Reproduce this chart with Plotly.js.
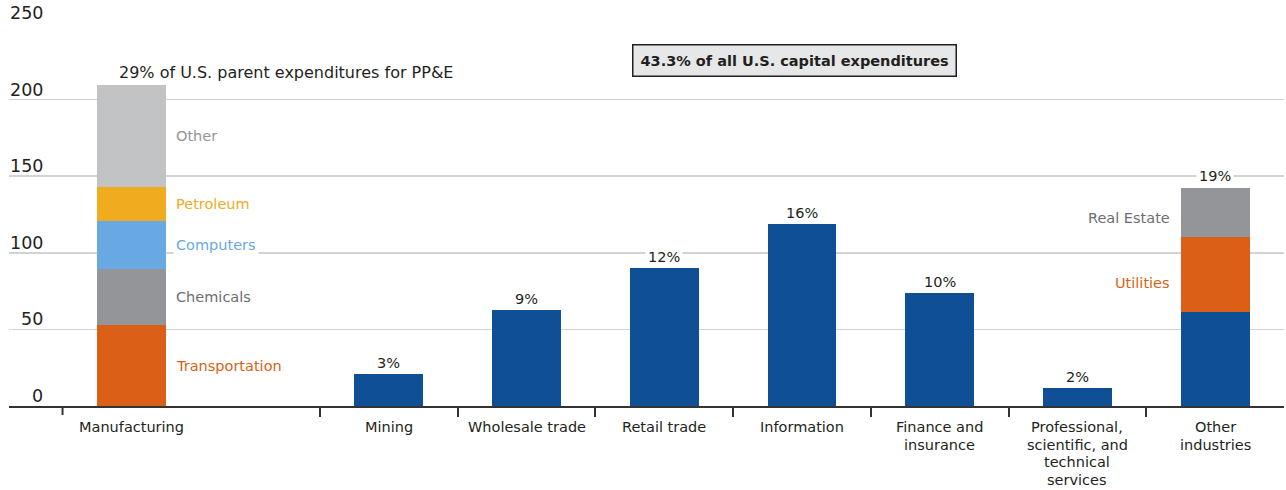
<!DOCTYPE html>
<html>
<head>
<meta charset="utf-8">
<script src="https://cdn.plot.ly/plotly-3.0.1.min.js"></script>
<style>html,body{margin:0;padding:0;background:#fff;}#chart{width:1286px;height:490px;}</style>
</head>
<body>
<div id="chart"></div>
<script>
// ---- data ----
const mfgCategory = "Manufacturing";
const mfgSegments = ["Transportation", "Chemicals", "Computers", "Petroleum", "Other"];
const mfgValues = [52.7, 36.6, 31.4, 22.0, 66.9];
const mfgColors = ["#DB5F16", "#939598", "#68A9E3", "#F0AB1F", "#C1C3C4"];
const mfgLabelColors = ["#DB5F16", "#6D6E71", "#68A9E3", "#F0AB1F", "#939598"];
const mfgNote = "29% of U.S. parent expenditures for PP&E";

const industries = ["Mining", "Wholesale trade", "Retail trade", "Information", "Finance and insurance",
  "Professional, scientific, and technical services", "Other industries"];
const industryLabelLines = [["Mining"], ["Wholesale trade"], ["Retail trade"], ["Information"],
  ["Finance and", "insurance"], ["Professional,", "scientific, and", "technical", "services"], ["Other", "industries"]];
const baseValues = [20.7, 62.5, 90.0, 118.8, 73.7, 11.6, 61.6];
const utilitiesValue = 48.4;   // Other industries: Utilities
const realEstateValue = 32.5;  // Other industries: Real Estate
const pctLabels = ["3%", "9%", "12%", "16%", "10%", "2%", "19%"];
const boxNote = "43.3% of all U.S. capital expenditures";
const yTicks = [0, 50, 100, 150, 200, 250];

// ---- styling ----
const FONT = "DejaVu Sans, Noto Sans, sans-serif";
const DARK = "#231F20";
const BLUE = "#0F4F96";
const FS = 14.5;
const LINE = 17.7;

const traces = [];
mfgSegments.forEach((s, i) => {
  traces.push({type: "bar", x: [mfgCategory], y: [mfgValues[i]], name: s, xaxis: "x", yaxis: "y",
    marker: {color: mfgColors[i]}, width: 0.5, hoverinfo: "name+y"});
});
traces.push({type: "bar", x: industries, y: baseValues, name: "Industry", xaxis: "x2", yaxis: "y",
  marker: {color: BLUE}, width: 0.5});
traces.push({type: "bar", x: [industries[6]], y: [utilitiesValue], name: "Utilities", xaxis: "x2", yaxis: "y",
  marker: {color: "#DB5F16"}, width: 0.5});
traces.push({type: "bar", x: [industries[6]], y: [realEstateValue], name: "Real Estate", xaxis: "x2", yaxis: "y",
  marker: {color: "#939598"}, width: 0.5});

const annotations = [];
// y tick labels (above gridlines, right-aligned)
yTicks.forEach(v => annotations.push({xref: "paper", yref: "y", x: 0.0285, y: v, xanchor: "right", yanchor: "bottom",
  text: String(v), showarrow: false, yshift: -2, font: {family: FONT, size: 17.5, color: DARK}}));
// category labels (one annotation per line for tight line spacing)
function catLabel(xref, x, lines) {
  lines.forEach((t, k) => annotations.push({xref: xref, yref: "paper", x: x, y: 0, xanchor: "center", yanchor: "top",
    yshift: -11 - k * LINE, text: t, showarrow: false, font: {family: FONT, size: FS, color: DARK}}));
}
catLabel("x", mfgCategory, [mfgCategory]);
industries.forEach((c, i) => catLabel("x2", c, industryLabelLines[i]));
// manufacturing segment labels
let cum = 0;
mfgValues.forEach((v, i) => {
  annotations.push({xref: "x", yref: "y", x: mfgCategory, y: cum + v / 2, xanchor: "left", yanchor: "middle",
    xshift: 41, text: mfgSegments[i], showarrow: false, bgcolor: "#ffffff", borderpad: 2,
    font: {family: FONT, size: FS, color: mfgLabelColors[i]}});
  cum += v;
});
annotations.push({xref: "x", yref: "y", x: mfgCategory, y: cum, xanchor: "left", yanchor: "bottom",
  xshift: -15, yshift: 1, text: mfgNote, showarrow: false, font: {family: FONT, size: 16, color: DARK}});
// percent labels on industry bars
industries.forEach((c, i) => {
  const total = baseValues[i] + (i === 6 ? utilitiesValue + realEstateValue : 0);
  annotations.push({xref: "x2", yref: "y", x: c, y: total, xanchor: "center", yanchor: "bottom", yshift: 0.5,
    text: pctLabels[i], showarrow: false, bgcolor: "#ffffff", borderpad: 2,
    font: {family: FONT, size: FS, color: DARK}});
});
// Other industries segment labels
annotations.push({xref: "x2", yref: "y", x: industries[6], y: baseValues[6] + utilitiesValue / 2, xanchor: "right",
  yanchor: "middle", xshift: -43, yshift: -8, text: "Utilities", showarrow: false, font: {family: FONT, size: FS, color: "#DB5F16"}});
annotations.push({xref: "x2", yref: "y", x: industries[6], y: baseValues[6] + utilitiesValue + realEstateValue / 2,
  xanchor: "right", yanchor: "middle", xshift: -43, yshift: -5, text: "Real Estate", showarrow: false,
  font: {family: FONT, size: FS, color: "#6D6E71"}});
// boxed note
annotations.push({xref: "paper", yref: "paper", x: 0.6157, y: 0.902, xanchor: "center", yanchor: "middle",
  text: "<b>" + boxNote + "</b>", showarrow: false, bgcolor: "#E6E7E8", bordercolor: DARK, borderwidth: 1.5,
  borderpad: 7, font: {family: FONT, size: FS, color: DARK}});

const layout = {
  width: 1286, height: 490,
  margin: {l: 9, r: 2, t: 23, b: 84},
  paper_bgcolor: "#ffffff", plot_bgcolor: "#ffffff",
  barmode: "stack", showlegend: false,
  font: {family: FONT, size: FS, color: DARK},
  xaxis: {type: "category", domain: [0, 0.2439], range: [-0.888, 1.366], anchor: "y",
    showline: true, linecolor: "#333333", linewidth: 2, showgrid: false, zeroline: false,
    ticks: "", showticklabels: false, fixedrange: true},
  xaxis2: {type: "category", domain: [0.2439, 1], range: [-0.5, 6.5], anchor: "y",
    showline: true, linecolor: "#333333", linewidth: 2, showgrid: false, zeroline: false,
    ticks: "outside", tickson: "boundaries", ticklen: 9, tickwidth: 2, tickcolor: "#333333",
    showticklabels: false, fixedrange: true},
  yaxis: {range: [0, 250], tickvals: yTicks, showticklabels: false, ticks: "",
    showgrid: true, gridcolor: "#D1D3D4", gridwidth: 1.5, zeroline: false, showline: false, anchor: "x", fixedrange: true},
  shapes: [{type: "line", xref: "x", yref: "paper", x0: -0.5, x1: -0.5, y0: 0, y1: -0.0235,
    line: {color: "#333333", width: 2}}],
  annotations: annotations
};

Plotly.newPlot("chart", traces, layout, {displayModeBar: false, staticPlot: true});
</script>
</body>
</html>
